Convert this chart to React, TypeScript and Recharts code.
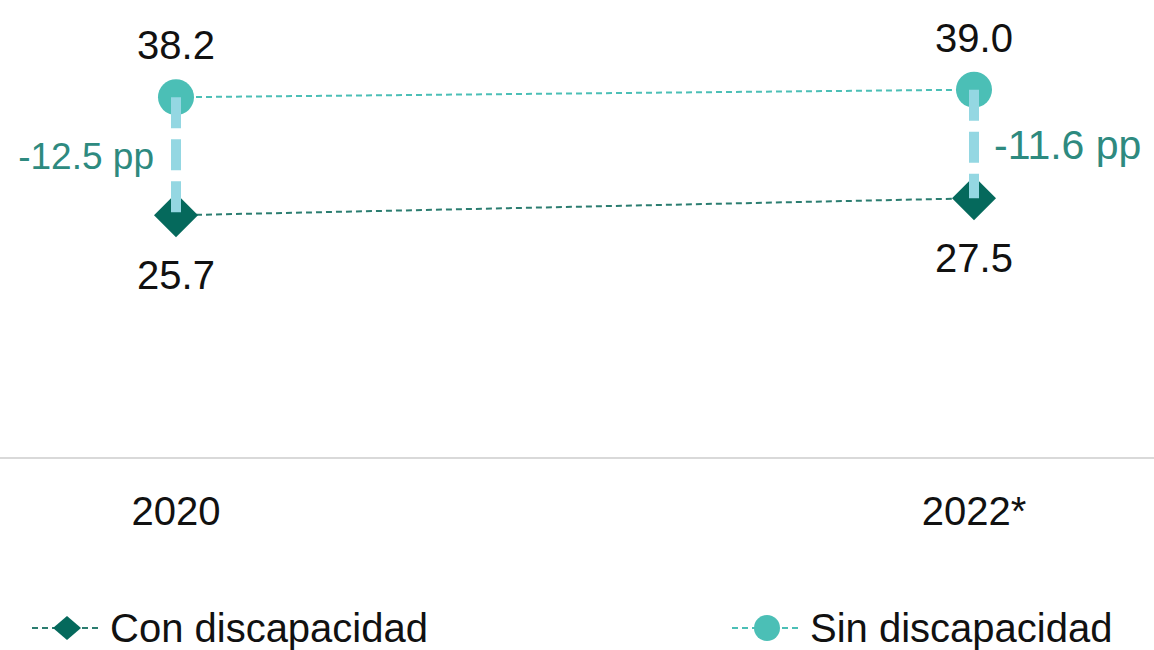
import React from 'react';
import { LineChart, Line, XAxis, YAxis, LabelList, ReferenceLine, Legend } from 'recharts';

const years = ['2020', '2022*'];
const conDiscapacidad = [25.7, 27.5];
const sinDiscapacidad = [38.2, 39.0];
const brechas = ['-12.5 pp', '-11.6 pp'];

const data = years.map((year, i) => ({
  year,
  con: conDiscapacidad[i],
  sin: sinDiscapacidad[i],
}));

const DARK = '#05695c';
const DARK_LINE = '#2b7d70';
const TEAL = '#4bbfb6';
const GAP = '#94d7e2';
const GAP_TEXT = '#2e8a7f';
const FONT = '"Liberation Sans", Arial, sans-serif';

const DiamondDot = (props: any) => {
  const { cx, cy, index } = props;
  if (cx == null || cy == null) return <g key={`d-${index}`} />;
  const s = 22;
  return (
    <path
      key={`d-${index}`}
      d={`M${cx},${cy - s}L${cx + s},${cy}L${cx},${cy + s}L${cx - s},${cy}Z`}
      fill={DARK}
    />
  );
};

const CircleDot = (props: any) => {
  const { cx, cy, index } = props;
  if (cx == null || cy == null) return <g key={`c-${index}`} />;
  return <circle key={`c-${index}`} cx={cx} cy={cy} r={18} fill={TEAL} />;
};

const legendItems = [
  { name: 'Con discapacidad', line: DARK_LINE, fill: DARK, shape: 'diamond', left: 32 },
  { name: 'Sin discapacidad', line: TEAL, fill: TEAL, shape: 'circle', left: 732 },
];

const renderLegend = () => (
  <div style={{ position: 'relative', height: 44, width: 1154 }}>
    {legendItems.map(item => (
      <div
        key={item.name}
        style={{
          position: 'absolute',
          left: item.left,
          top: 0,
          height: 44,
          display: 'flex',
          alignItems: 'center',
          fontSize: 40,
          color: '#111',
          whiteSpace: 'nowrap',
        }}
      >
        <svg width={70} height={44} style={{ marginRight: 8 }}>
          <line x1={0} y1={22} x2={70} y2={22} stroke={item.line} strokeWidth={2} strokeDasharray="6 4" />
          {item.shape === 'diamond' ? (
            <path d="M35,10L49,22L35,34L21,22Z" fill={item.fill} />
          ) : (
            <circle cx={35} cy={22} r={13} fill={item.fill} />
          )}
        </svg>
        <span>{item.name}</span>
      </div>
    ))}
  </div>
);

export default function App() {
  return (
    <div style={{ position: 'absolute', left: 0, top: 0, fontFamily: FONT }}>
      <LineChart width={1154} height={650} data={data} margin={{ top: 33, right: 0, left: 0, bottom: 0 }}>
        <XAxis
          dataKey="year"
          padding={{ left: 176, right: 180 }}
          axisLine={{ stroke: '#d9d9d9', strokeWidth: 2 }}
          tickLine={false}
          tickSize={0}
          tickMargin={39}
          height={148}
          tick={{ fontSize: 40, fill: '#111' }}
        />
        <YAxis hide domain={[0, 45]} />
        <Line
          dataKey="con"
          name="Con discapacidad"
          stroke={DARK_LINE}
          strokeWidth={2}
          strokeDasharray="6 4"
          dot={DiamondDot}
          activeDot={false}
          isAnimationActive={false}
        >
          <LabelList dataKey="con" position="bottom" offset={45} fontSize={40} fill="#111" formatter={(v: any) => Number(v).toFixed(1)} />
        </Line>
        <Line
          dataKey="sin"
          name="Sin discapacidad"
          stroke={TEAL}
          strokeWidth={2}
          strokeDasharray="6 4"
          dot={CircleDot}
          activeDot={false}
          isAnimationActive={false}
        >
          <LabelList dataKey="sin" position="top" offset={38} fontSize={40} fill="#111" formatter={(v: any) => Number(v).toFixed(1)} />
        </Line>
        {years.map((year, i) => (
          <ReferenceLine
            key={year}
            zIndex={1500}
            segment={[
              { x: year, y: sinDiscapacidad[i] },
              { x: year, y: conDiscapacidad[i] },
            ]}
            stroke={GAP}
            strokeWidth={10}
            strokeDasharray="31 11"
            label={{
              value: brechas[i],
              position: i === 0 ? 'left' : 'right',
              offset: i === 0 ? 22 : 20,
              fill: GAP_TEXT,
              fontSize: i === 0 ? 37 : 41,
            }}
          />
        ))}
        <Legend verticalAlign="bottom" content={renderLegend} wrapperStyle={{ left: 0, width: 1154 }} />
      </LineChart>
    </div>
  );
}
